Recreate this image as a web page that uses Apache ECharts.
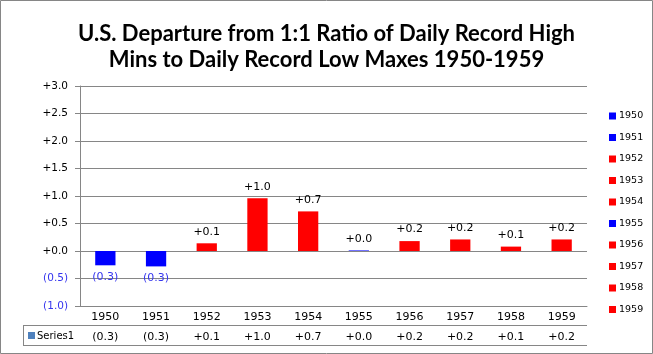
<!DOCTYPE html>
<html>
<head>
<meta charset="utf-8">
<script src="https://cdn.jsdelivr.net/npm/echarts@6/dist/echarts.min.js"></script>
<style>
  html, body { margin: 0; padding: 0; background: #fff; }
  #chart { width: 653px; height: 354px; }
</style>
</head>
<body>
<div id="chart"></div>
<script>
const years = ['1950', '1951', '1952', '1953', '1954', '1955', '1956', '1957', '1958', '1959']
const values = [-0.26, -0.28, 0.14, 0.96, 0.72, 0.01, 0.18, 0.21, 0.08, 0.21]
const barColors = ['#0000ff', '#0000ff', '#ff0000', '#ff0000', '#ff0000', '#0000ff', '#ff0000', '#ff0000', '#ff0000', '#ff0000']

const negColor = '#3535ee'
const txtFont = 'DejaVu Sans'

const fmt = v => (v < 0 ? '(' + Math.abs(v).toFixed(1) + ')' : '+' + v.toFixed(1))

const chart = echarts.init(document.getElementById('chart'))

// one series per year, stacked, so the legend lists every year with its colour
const series = years.map((y, i) => ({
  name: y,
  type: 'bar',
  stack: 'all',
  xAxisIndex: 0,
  barWidth: '40%',
  color: barColors[i],
  data: years.map((_, j) => (j === i ? values[i] : '-')),
  label: {
    show: true,
    position: values[i] < 0 ? 'bottom' : 'top',
    distance: 6,
    fontFamily: txtFont,
    fontSize: 11,
    color: values[i] < 0 ? negColor : '#000',
    formatter: p => fmt(p.value),
  },
}))

const option = {
  animation: false,
  title: {
    text: 'U.S. Departure from 1:1 Ratio of Daily Record High\nMins to Daily Record Low Maxes 1950-1959',
    left: 'center',
    top: 16,
    textStyle: {
      fontFamily: 'Lato',
      fontWeight: 'bold',
      fontSize: 22,
      lineHeight: 26,
      color: '#000',
    },
  },
  legend: {
    orient: 'vertical',
    left: 604,
    top: 106,
    itemWidth: 7,
    itemHeight: 7,
    itemGap: 11.5,
    icon: 'rect',
    textStyle: { fontFamily: txtFont, fontSize: 9.5, color: '#000', padding: [0, 0, 0, -2] },
    data: years,
  },
  grid: { left: 80, right: 66, top: 86, bottom: 48 },
  yAxis: {
    type: 'value',
    min: -1,
    max: 3,
    interval: 0.5,
    axisLine: { show: true, lineStyle: { color: '#868686' } },
    axisTick: { show: true, length: 5, lineStyle: { color: '#868686' } },
    splitLine: { lineStyle: { color: '#868686' } },
    axisLabel: {
      margin: 12,
      fontFamily: txtFont,
      fontSize: 10.5,
      color: '#000',
      formatter: v => (v < 0 ? '{n|' + fmt(v) + '}' : fmt(v)),
      rich: { n: { color: negColor, fontFamily: txtFont, fontSize: 10.5 } },
    },
  },
  xAxis: [
    {
      type: 'category',
      data: years,
      position: 'bottom',
      axisLine: { onZero: false, lineStyle: { color: '#868686' } },
      axisTick: { length: 40, lineStyle: { color: '#868686' } },
      axisLabel: { margin: 6, fontFamily: txtFont, fontSize: 11, color: '#000' },
    },
    {
      type: 'category',
      data: years,
      position: 'bottom',
      offset: 20,
      axisLine: { show: false },
      axisTick: { show: false },
      axisLabel: {
        margin: 6,
        fontFamily: txtFont,
        fontSize: 11,
        color: '#000',
        formatter: (v, i) => fmt(values[i]),
      },
    },
  ],
  graphic: [
    { type: 'rect', shape: { x: 0.5, y: 0.5, width: 652, height: 353 }, style: { fill: 'none', stroke: '#868686' }, silent: true },
    { type: 'line', shape: { x1: 23, y1: 325.5, x2: 587, y2: 325.5 }, style: { stroke: '#868686' } },
    { type: 'line', shape: { x1: 23, y1: 345.5, x2: 587, y2: 345.5 }, style: { stroke: '#868686' } },
    { type: 'line', shape: { x1: 23.5, y1: 325, x2: 23.5, y2: 346 }, style: { stroke: '#868686' } },
    { type: 'rect', shape: { x: 28, y: 332, width: 7, height: 7 }, style: { fill: '#4f81bd' } },
    { type: 'text', x: 37, y: 336, style: { text: 'Series1', fontFamily: txtFont, fontSize: 10, fill: '#000', verticalAlign: 'middle' } },
  ],
  series: series,
}

chart.setOption(option)
</script>
</body>
</html>
